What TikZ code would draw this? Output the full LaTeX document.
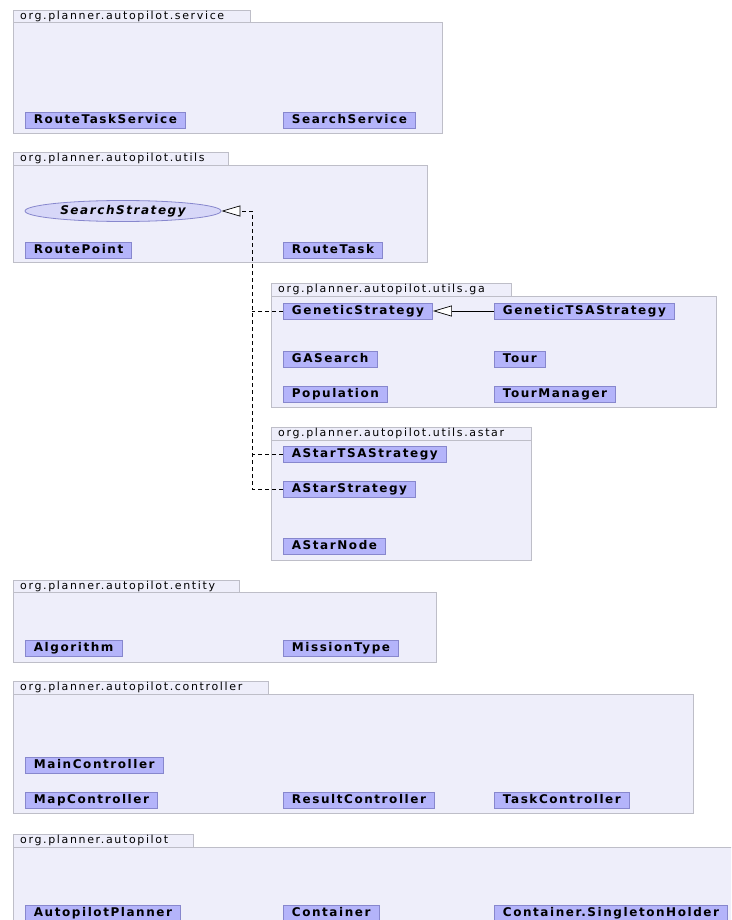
\documentclass[tikz,border=0pt]{standalone}
\usepackage{fontspec}
\setmainfont{DejaVu Sans}
\newfontfamily\pkgfont[LetterSpace=15]{DejaVu Sans}
\newfontfamily\clsfont[LetterSpace=13]{DejaVu Sans Bold}
\usetikzlibrary{arrows.meta,shapes.geometric}

\definecolor{pkgfill}{RGB}{238,238,250}
\definecolor{pkgline}{RGB}{190,190,200}
\definecolor{clsfill}{RGB}{180,180,250}
\definecolor{clsline}{RGB}{135,135,205}
\definecolor{ifcfill}{RGB}{215,215,248}

\tikzset{
  pkgbody/.style={draw=pkgline,fill=pkgfill,line width=0.8pt},
  pkglabel/.style={anchor=west,inner sep=0pt,font=\pkgfont\fontsize{11}{12}\selectfont},
  cls/.style={draw=clsline,fill=clsfill,line width=0.8pt,anchor=west,
    minimum height=16pt,inner ysep=0pt,inner xsep=8.5pt,text height=8.6pt,text depth=2.4pt,
    font=\clsfont\fontsize{12}{13}\selectfont},
  ifc/.style={ellipse,draw=clsline,fill=ifcfill,line width=0.8pt,minimum width=196pt,
    minimum height=21pt,inner sep=0pt,font=\clsfont\itshape\fontsize{12}{13}\selectfont},
  dep/.style={line width=0.7pt,dash pattern=on 4pt off 3pt},
  generalize/.style={-{Triangle[open,length=19pt,width=11pt,fill=white]},line width=0.7pt},
  realize/.style={generalize,dep}
}

% package: tab corners, body corners, name
\newcommand{\umlpkg}[7]{
  \draw[pkgbody] (#1,#2) rectangle (#3,#4);
  \draw[pkgbody] (#1,#4) rectangle (#5,#6);
  \node[pkglabel] at (#1+7,{(#2+#4)/2}) {#7};
}

\begin{document}
\begin{tikzpicture}[x=1pt,y=-1pt]
  \useasboundingbox[fill=white] (0,0) rectangle (731,920);
  \begin{scope}
  \clip (0,0) rectangle (731,920);

  \umlpkg{13}{10}{250}{22}{442}{133}{org.planner.autopilot.service}
  \node[cls] (rts) at (25,120) {RouteTaskService};
  \node[cls] (srs) at (283,120) {SearchService};

  \umlpkg{13}{152}{228}{165}{427}{262}{org.planner.autopilot.utils}
  \node[ifc] (ss) at (123,211) {SearchStrategy};
  \node[cls] (rp) at (25,250) {RoutePoint};
  \node[cls] (rt) at (283,250) {RouteTask};

  \umlpkg{271}{283}{511}{296}{716}{407}{org.planner.autopilot.utils.ga}
  \node[cls] (gs) at (283,311) {GeneticStrategy};
  \node[cls] (gts) at (494,311) {GeneticTSAStrategy};
  \node[cls] (gas) at (283,359) {GASearch};
  \node[cls] (tour) at (494,359) {Tour};
  \node[cls] (pop) at (283,394) {Population};
  \node[cls] (tm) at (494,394) {TourManager};

  \umlpkg{271}{427}{531}{440}{531}{560}{org.planner.autopilot.utils.astar}
  \node[cls] (ats) at (283,454) {AStarTSAStrategy};
  \node[cls] (as) at (283,489) {AStarStrategy};
  \node[cls] (an) at (283,546) {AStarNode};

  \umlpkg{13}{580}{239}{592}{436}{662}{org.planner.autopilot.entity}
  \node[cls] (alg) at (25,648) {Algorithm};
  \node[cls] (mt) at (283,648) {MissionType};

  \umlpkg{13}{681}{268}{694}{693}{813}{org.planner.autopilot.controller}
  \node[cls] (mc) at (25,765) {MainController};
  \node[cls] (mapc) at (25,800) {MapController};
  \node[cls] (rc) at (283,800) {ResultController};
  \node[cls] (tc) at (494,800) {TaskController};

  \umlpkg{13}{834}{193}{847}{745}{935}{org.planner.autopilot}
  \node[cls] (ap) at (25,913) {AutopilotPlanner};
  \node[cls] (cont) at (283,913) {Container};
  \node[cls] (sh) at (494,913) {Container.SingletonHolder};

  % realizations share one dashed trunk
  \coordinate (trunk) at (252,211);
  \draw[realize] (as.west) -- (as.west -| trunk) |- (ss.east);
  \draw[dep] (ats.west) -- (ats.west -| trunk);
  \draw[dep] (gs.west) -- (gs.west -| trunk);
  \draw[generalize] (gts.west) -- (gs.east);
  \end{scope}
\end{tikzpicture}
\end{document}
